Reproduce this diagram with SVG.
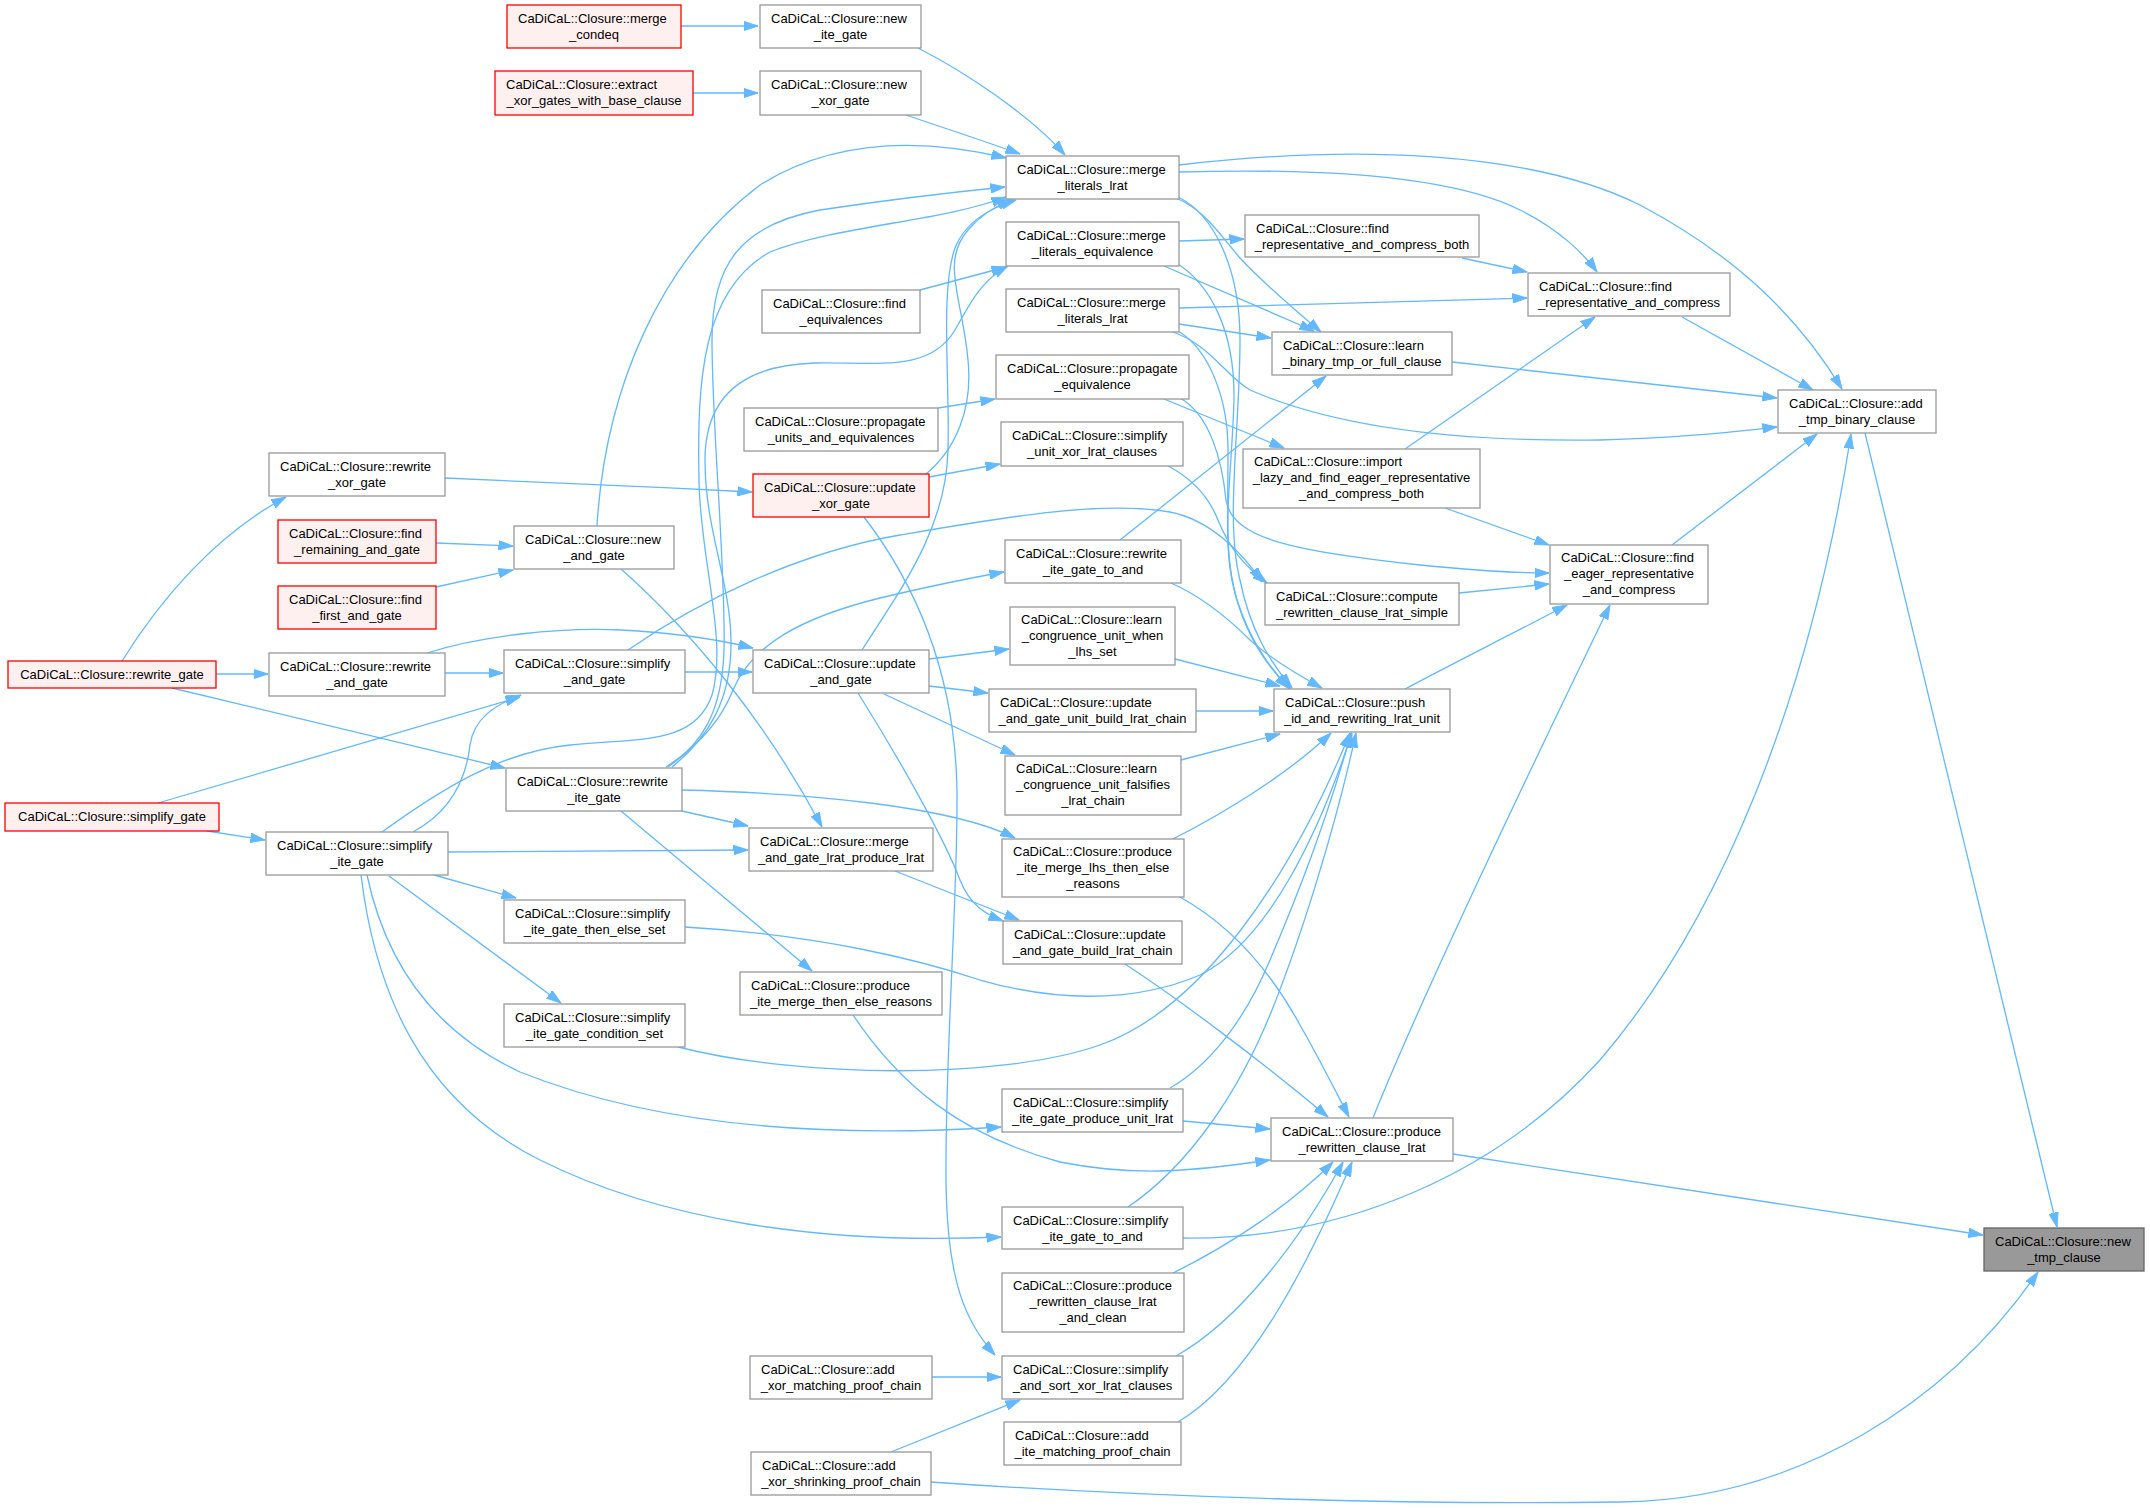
<svg xmlns="http://www.w3.org/2000/svg" width="2150" height="1508" viewBox="0 0 2150 1508">
<style>
.nd rect{fill:#ffffff;stroke:#999999;stroke-width:1.3}
.rd rect{fill:#fff0f0;stroke:#ff0000;stroke-width:1.3}
.rt rect{fill:#999999;stroke:#666666;stroke-width:1.3}
text{font-family:"Liberation Sans",Arial,Helvetica,sans-serif;font-size:13px;fill:#000000}
.c{text-anchor:middle}
#edges path{fill:none;stroke:#63b8ff;stroke-width:1.3;marker-end:url(#ah)}
</style>
<defs>
<marker id="ah" viewBox="0 0 15 10" refX="14.5" refY="5" markerWidth="15" markerHeight="10" markerUnits="userSpaceOnUse" orient="auto">
<path d="M0,0.3 L14.5,5 L0,9.7 z" fill="#63b8ff" stroke="#63b8ff" stroke-width="1"/>
</marker>
</defs>
<rect width="2150" height="1508" fill="#ffffff"/>
<g id="edges">
<path d="M681,26 L758,26"/>
<path d="M693,93 L758,93"/>
<path d="M918,48 C965,72 1030,115 1065,155"/>
<path d="M906,115 C950,130 990,143 1020,154"/>
<path d="M597,526 C605,390 660,260 760,185 C840,135 930,140 1006,158"/>
<path d="M668,767 C700,745 722,715 724,650 C726,570 712,430 712,340 C712,265 740,225 820,210 C900,198 955,192 1005,187"/>
<path d="M382,832 C440,790 500,752 570,745 C640,738 695,745 712,695 C728,640 700,560 699,480 C697,380 702,290 770,252 C840,225 940,222 1006,197"/>
<path d="M672,767 C708,738 732,700 731,640 C730,580 705,530 705,460 C705,395 745,365 815,363 C880,362 930,372 955,330 C972,300 982,280 1008,266"/>
<path d="M926,474 C955,450 973,410 968,360 C963,300 940,262 968,230 C980,216 995,206 1012,200"/>
<path d="M862,650 C900,590 946,530 948,450 C950,380 940,290 955,248 C965,222 990,208 1016,200"/>
<path d="M666,767 C700,745 722,718 733,690 C752,645 800,618 880,598 C935,585 970,578 1004,572"/>
<path d="M920,290 L1006,267"/>
<path d="M938,408 L995,399"/>
<path d="M929,477 L1000,464"/>
<path d="M445,478 C550,482 650,487 752,492"/>
<path d="M122,661 C160,600 215,535 286,497"/>
<path d="M216,674 L268,674"/>
<path d="M172,688 L505,768"/>
<path d="M436,543 L513,546"/>
<path d="M436,587 L513,570"/>
<path d="M621,569 C690,630 765,720 822,827"/>
<path d="M445,673 L503,673"/>
<path d="M427,653 C480,636 560,627 620,630 C680,633 720,640 753,648"/>
<path d="M685,672 L752,672"/>
<path d="M628,650 C700,600 800,552 900,535 C1000,518 1100,500 1170,512 C1210,520 1242,552 1262,582"/>
<path d="M158,803 L520,697"/>
<path d="M207,831 L265,840"/>
<path d="M413,832 C450,812 466,780 470,745 C474,718 495,705 521,695"/>
<path d="M448,852 L748,850"/>
<path d="M434,875 L516,898"/>
<path d="M389,876 L561,1003"/>
<path d="M367,875 C385,960 430,1030 520,1072 C640,1120 800,1140 1001,1127"/>
<path d="M361,875 C375,990 420,1100 540,1160 C660,1220 820,1245 1001,1237"/>
<path d="M682,811 L748,826"/>
<path d="M682,790 C800,793 950,805 1015,838"/>
<path d="M621,811 L812,971"/>
<path d="M929,659 L1009,649"/>
<path d="M929,686 L988,693"/>
<path d="M884,694 L1015,755"/>
<path d="M858,693 C900,760 945,840 960,880 C970,905 985,914 1003,921"/>
<path d="M895,871 L1019,920"/>
<path d="M864,517 C920,590 955,680 957,790 C958,900 945,1050 946,1180 C947,1280 965,1322 995,1355"/>
<path d="M1175,659 L1280,686"/>
<path d="M1196,711 L1273,711"/>
<path d="M1181,760 L1280,734"/>
<path d="M1173,839 C1230,810 1290,772 1331,733"/>
<path d="M1171,583 C1205,598 1230,620 1250,640 C1272,660 1298,675 1322,688"/>
<path d="M1459,593 L1549,584"/>
<path d="M1405,689 C1450,665 1510,635 1567,605"/>
<path d="M1445,508 L1549,545"/>
<path d="M1180,398 C1210,415 1222,460 1226,500 C1232,540 1300,552 1420,565 C1480,571 1515,573 1549,573"/>
<path d="M1373,1118 C1420,1000 1530,770 1610,605"/>
<path d="M1672,545 L1817,434"/>
<path d="M1682,317 L1813,390"/>
<path d="M1179,165 C1350,145 1530,150 1640,205 C1740,258 1800,320 1842,389"/>
<path d="M1452,362 L1777,398"/>
<path d="M1173,332 C1210,345 1225,375 1250,390 C1330,425 1450,442 1600,440 C1680,438 1730,432 1777,427"/>
<path d="M1179,172 C1320,168 1450,175 1520,210 C1560,230 1585,255 1597,272"/>
<path d="M1462,258 L1527,272"/>
<path d="M1179,241 L1244,239"/>
<path d="M1179,308 L1527,298"/>
<path d="M1405,449 L1595,317"/>
<path d="M1176,198 C1205,210 1220,235 1240,258 C1265,285 1295,310 1321,332"/>
<path d="M1164,266 L1314,331"/>
<path d="M1179,324 L1271,338"/>
<path d="M1164,399 L1284,448"/>
<path d="M1120,540 L1326,376"/>
<path d="M1178,197 C1215,215 1240,270 1240,340 C1240,430 1225,520 1240,580 C1250,630 1270,662 1292,688"/>
<path d="M1178,264 C1210,285 1235,330 1234,400 C1232,470 1222,530 1232,580 C1242,630 1265,664 1289,688"/>
<path d="M1178,331 C1210,350 1228,400 1228,450 C1228,520 1225,560 1237,600 C1250,640 1268,666 1290,689"/>
<path d="M1168,466 C1195,480 1210,500 1218,520 C1230,550 1245,566 1267,583"/>
<path d="M685,927 C820,935 920,960 980,980 C1050,1000 1130,1005 1200,975 C1270,940 1320,830 1352,733"/>
<path d="M678,1047 C800,1078 1000,1080 1100,1045 C1200,1010 1290,880 1350,733"/>
<path d="M1170,1088 C1210,1065 1245,1020 1270,960 C1300,890 1330,810 1351,733"/>
<path d="M1128,1207 C1190,1165 1240,1090 1272,1010 C1300,940 1335,830 1356,733"/>
<path d="M1183,1238 C1350,1240 1500,1170 1600,1060 C1720,920 1810,700 1851,434"/>
<path d="M1183,1121 L1270,1129"/>
<path d="M853,1015 C900,1085 960,1135 1060,1162 C1140,1178 1200,1170 1270,1160"/>
<path d="M1180,897 C1230,925 1270,970 1300,1025 C1320,1060 1335,1090 1349,1117"/>
<path d="M1125,964 C1180,1000 1260,1060 1328,1117"/>
<path d="M1173,1273 C1230,1245 1290,1205 1333,1162"/>
<path d="M1176,1356 C1240,1320 1300,1240 1343,1162"/>
<path d="M1178,1422 C1250,1380 1310,1260 1352,1162"/>
<path d="M1453,1154 L1983,1235"/>
<path d="M1865,433 L2057,1227"/>
<path d="M930,1482 C1150,1497 1400,1505 1620,1502 C1800,1500 1950,1400 2038,1272"/>
<path d="M891,1452 L1020,1400"/>
<path d="M932,1377 L1001,1377"/>
</g>
<g id="n_merge_condeq" class="rd"><rect x="507" y="5" width="174" height="43"/><text x="518" y="23">CaDiCaL::Closure::merge</text><text class="c" x="594" y="39">_condeq</text></g>
<g id="n_extract_xor" class="rd"><rect x="495" y="71" width="198" height="44"/><text x="506" y="89">CaDiCaL::Closure::extract</text><text class="c" x="594" y="105">_xor_gates_with_base_clause</text></g>
<g id="n_new_ite_gate" class="nd"><rect x="760" y="5" width="161" height="43"/><text x="771" y="23">CaDiCaL::Closure::new</text><text class="c" x="840.5" y="39">_ite_gate</text></g>
<g id="n_new_xor_gate" class="nd"><rect x="760" y="71" width="161" height="44"/><text x="771" y="89">CaDiCaL::Closure::new</text><text class="c" x="840.5" y="105">_xor_gate</text></g>
<g id="n_merge_literals_lrat1" class="nd"><rect x="1006" y="156" width="173" height="43"/><text x="1017" y="174">CaDiCaL::Closure::merge</text><text class="c" x="1092.5" y="190">_literals_lrat</text></g>
<g id="n_merge_literals_equivalence" class="nd"><rect x="1006" y="222" width="173" height="44"/><text x="1017" y="240">CaDiCaL::Closure::merge</text><text class="c" x="1092.5" y="256">_literals_equivalence</text></g>
<g id="n_find_equivalences" class="nd"><rect x="762" y="290" width="158" height="43"/><text x="773" y="308">CaDiCaL::Closure::find</text><text class="c" x="841" y="324">_equivalences</text></g>
<g id="n_merge_literals_lrat2" class="nd"><rect x="1006" y="289" width="173" height="43"/><text x="1017" y="307">CaDiCaL::Closure::merge</text><text class="c" x="1092.5" y="323">_literals_lrat</text></g>
<g id="n_propagate_equivalence" class="nd"><rect x="996" y="355" width="193" height="44"/><text x="1007" y="373">CaDiCaL::Closure::propagate</text><text class="c" x="1092.5" y="389">_equivalence</text></g>
<g id="n_propagate_units" class="nd"><rect x="744" y="408" width="194" height="43"/><text x="755" y="426">CaDiCaL::Closure::propagate</text><text class="c" x="841" y="442">_units_and_equivalences</text></g>
<g id="n_simplify_unit_xor" class="nd"><rect x="1001" y="422" width="182" height="44"/><text x="1012" y="440">CaDiCaL::Closure::simplify</text><text class="c" x="1092" y="456">_unit_xor_lrat_clauses</text></g>
<g id="n_update_xor_gate" class="rd"><rect x="753" y="474" width="176" height="43"/><text x="764" y="492">CaDiCaL::Closure::update</text><text class="c" x="841" y="508">_xor_gate</text></g>
<g id="n_find_rep_both" class="nd"><rect x="1245" y="215" width="234" height="42"/><text x="1256" y="233">CaDiCaL::Closure::find</text><text class="c" x="1362" y="249">_representative_and_compress_both</text></g>
<g id="n_find_rep" class="nd"><rect x="1528" y="273" width="202" height="43"/><text x="1539" y="291">CaDiCaL::Closure::find</text><text class="c" x="1629" y="307">_representative_and_compress</text></g>
<g id="n_learn_binary" class="nd"><rect x="1272" y="332" width="180" height="43"/><text x="1283" y="350">CaDiCaL::Closure::learn</text><text class="c" x="1362" y="366">_binary_tmp_or_full_clause</text></g>
<g id="n_import_lazy" class="nd"><rect x="1243" y="449" width="237" height="59"/><text x="1254" y="466">CaDiCaL::Closure::import</text><text class="c" x="1361.5" y="482">_lazy_and_find_eager_representative</text><text class="c" x="1361.5" y="498">_and_compress_both</text></g>
<g id="n_add_tmp_binary" class="nd"><rect x="1778" y="390" width="158" height="43"/><text x="1789" y="408">CaDiCaL::Closure::add</text><text class="c" x="1857" y="424">_tmp_binary_clause</text></g>
<g id="n_rewrite_xor_gate" class="nd"><rect x="269" y="453" width="176" height="43"/><text x="280" y="471">CaDiCaL::Closure::rewrite</text><text class="c" x="357" y="487">_xor_gate</text></g>
<g id="n_find_remaining" class="rd"><rect x="278" y="520" width="158" height="43"/><text x="289" y="538">CaDiCaL::Closure::find</text><text class="c" x="357" y="554">_remaining_and_gate</text></g>
<g id="n_find_first" class="rd"><rect x="278" y="586" width="158" height="43"/><text x="289" y="604">CaDiCaL::Closure::find</text><text class="c" x="357" y="620">_first_and_gate</text></g>
<g id="n_new_and_gate" class="nd"><rect x="514" y="526" width="160" height="43"/><text x="525" y="544">CaDiCaL::Closure::new</text><text class="c" x="594" y="560">_and_gate</text></g>
<g id="n_rewrite_gate" class="rd"><rect x="8" y="661" width="208" height="27"/><text class="c" x="112" y="679">CaDiCaL::Closure::rewrite_gate</text></g>
<g id="n_rewrite_and_gate" class="nd"><rect x="269" y="653" width="176" height="43"/><text x="280" y="671">CaDiCaL::Closure::rewrite</text><text class="c" x="357" y="687">_and_gate</text></g>
<g id="n_simplify_and_gate" class="nd"><rect x="504" y="650" width="181" height="43"/><text x="515" y="668">CaDiCaL::Closure::simplify</text><text class="c" x="594.5" y="684">_and_gate</text></g>
<g id="n_rewrite_ite_gate" class="nd"><rect x="506" y="768" width="176" height="43"/><text x="517" y="786">CaDiCaL::Closure::rewrite</text><text class="c" x="594" y="802">_ite_gate</text></g>
<g id="n_simplify_gate" class="rd"><rect x="5" y="803" width="214" height="28"/><text class="c" x="112" y="821">CaDiCaL::Closure::simplify_gate</text></g>
<g id="n_simplify_ite_gate" class="nd"><rect x="266" y="832" width="182" height="43"/><text x="277" y="850">CaDiCaL::Closure::simplify</text><text class="c" x="357" y="866">_ite_gate</text></g>
<g id="n_then_else_set" class="nd"><rect x="504" y="900" width="181" height="43"/><text x="515" y="918">CaDiCaL::Closure::simplify</text><text class="c" x="594.5" y="934">_ite_gate_then_else_set</text></g>
<g id="n_condition_set" class="nd"><rect x="504" y="1004" width="181" height="43"/><text x="515" y="1022">CaDiCaL::Closure::simplify</text><text class="c" x="594.5" y="1038">_ite_gate_condition_set</text></g>
<g id="n_update_and_gate" class="nd"><rect x="753" y="650" width="176" height="43"/><text x="764" y="668">CaDiCaL::Closure::update</text><text class="c" x="841" y="684">_and_gate</text></g>
<g id="n_merge_and_gate_lrat" class="nd"><rect x="749" y="828" width="184" height="43"/><text x="760" y="846">CaDiCaL::Closure::merge</text><text class="c" x="841" y="862">_and_gate_lrat_produce_lrat</text></g>
<g id="n_produce_then_else" class="nd"><rect x="740" y="972" width="202" height="43"/><text x="751" y="990">CaDiCaL::Closure::produce</text><text class="c" x="841" y="1006">_ite_merge_then_else_reasons</text></g>
<g id="n_rewrite_ite_to_and" class="nd"><rect x="1005" y="540" width="176" height="43"/><text x="1016" y="558">CaDiCaL::Closure::rewrite</text><text class="c" x="1093" y="574">_ite_gate_to_and</text></g>
<g id="n_learn_when" class="nd"><rect x="1010" y="607" width="165" height="58"/><text x="1021" y="624">CaDiCaL::Closure::learn</text><text class="c" x="1092.5" y="640">_congruence_unit_when</text><text class="c" x="1092.5" y="656">_lhs_set</text></g>
<g id="n_update_unit" class="nd"><rect x="989" y="689" width="207" height="43"/><text x="1000" y="707">CaDiCaL::Closure::update</text><text class="c" x="1092.5" y="723">_and_gate_unit_build_lrat_chain</text></g>
<g id="n_learn_falsifies" class="nd"><rect x="1005" y="756" width="176" height="59"/><text x="1016" y="773">CaDiCaL::Closure::learn</text><text class="c" x="1093" y="789">_congruence_unit_falsifies</text><text class="c" x="1093" y="805">_lrat_chain</text></g>
<g id="n_produce_lhs" class="nd"><rect x="1002" y="839" width="182" height="58"/><text x="1013" y="856">CaDiCaL::Closure::produce</text><text class="c" x="1093" y="872">_ite_merge_lhs_then_else</text><text class="c" x="1093" y="888">_reasons</text></g>
<g id="n_update_build" class="nd"><rect x="1003" y="921" width="179" height="43"/><text x="1014" y="939">CaDiCaL::Closure::update</text><text class="c" x="1092.5" y="955">_and_gate_build_lrat_chain</text></g>
<g id="n_compute_rewritten" class="nd"><rect x="1265" y="583" width="194" height="42"/><text x="1276" y="601">CaDiCaL::Closure::compute</text><text class="c" x="1362" y="617">_rewritten_clause_lrat_simple</text></g>
<g id="n_push_id" class="nd"><rect x="1274" y="689" width="176" height="43"/><text x="1285" y="707">CaDiCaL::Closure::push</text><text class="c" x="1362" y="723">_id_and_rewriting_lrat_unit</text></g>
<g id="n_find_eager" class="nd"><rect x="1550" y="545" width="158" height="59"/><text x="1561" y="562">CaDiCaL::Closure::find</text><text class="c" x="1629" y="578">_eager_representative</text><text class="c" x="1629" y="594">_and_compress</text></g>
<g id="n_ite_unit_lrat" class="nd"><rect x="1002" y="1089" width="181" height="43"/><text x="1013" y="1107">CaDiCaL::Closure::simplify</text><text class="c" x="1092.5" y="1123">_ite_gate_produce_unit_lrat</text></g>
<g id="n_produce_rewritten" class="nd"><rect x="1271" y="1118" width="182" height="43"/><text x="1282" y="1136">CaDiCaL::Closure::produce</text><text class="c" x="1362" y="1152">_rewritten_clause_lrat</text></g>
<g id="n_ite_to_and" class="nd"><rect x="1002" y="1207" width="181" height="42"/><text x="1013" y="1225">CaDiCaL::Closure::simplify</text><text class="c" x="1092.5" y="1241">_ite_gate_to_and</text></g>
<g id="n_produce_clean" class="nd"><rect x="1002" y="1273" width="182" height="59"/><text x="1013" y="1290">CaDiCaL::Closure::produce</text><text class="c" x="1093" y="1306">_rewritten_clause_lrat</text><text class="c" x="1093" y="1322">_and_clean</text></g>
<g id="n_sort_xor" class="nd"><rect x="1002" y="1356" width="181" height="43"/><text x="1013" y="1374">CaDiCaL::Closure::simplify</text><text class="c" x="1092.5" y="1390">_and_sort_xor_lrat_clauses</text></g>
<g id="n_add_xor_matching" class="nd"><rect x="750" y="1356" width="182" height="43"/><text x="761" y="1374">CaDiCaL::Closure::add</text><text class="c" x="841" y="1390">_xor_matching_proof_chain</text></g>
<g id="n_add_ite_matching" class="nd"><rect x="1004" y="1422" width="177" height="43"/><text x="1015" y="1440">CaDiCaL::Closure::add</text><text class="c" x="1092.5" y="1456">_ite_matching_proof_chain</text></g>
<g id="n_add_xor_shrinking" class="nd"><rect x="751" y="1452" width="180" height="43"/><text x="762" y="1470">CaDiCaL::Closure::add</text><text class="c" x="841" y="1486">_xor_shrinking_proof_chain</text></g>
<g id="n_new_tmp_clause" class="rt"><rect x="1984" y="1228" width="160" height="43"/><text x="1995" y="1246">CaDiCaL::Closure::new</text><text class="c" x="2064" y="1262">_tmp_clause</text></g>
</svg>
